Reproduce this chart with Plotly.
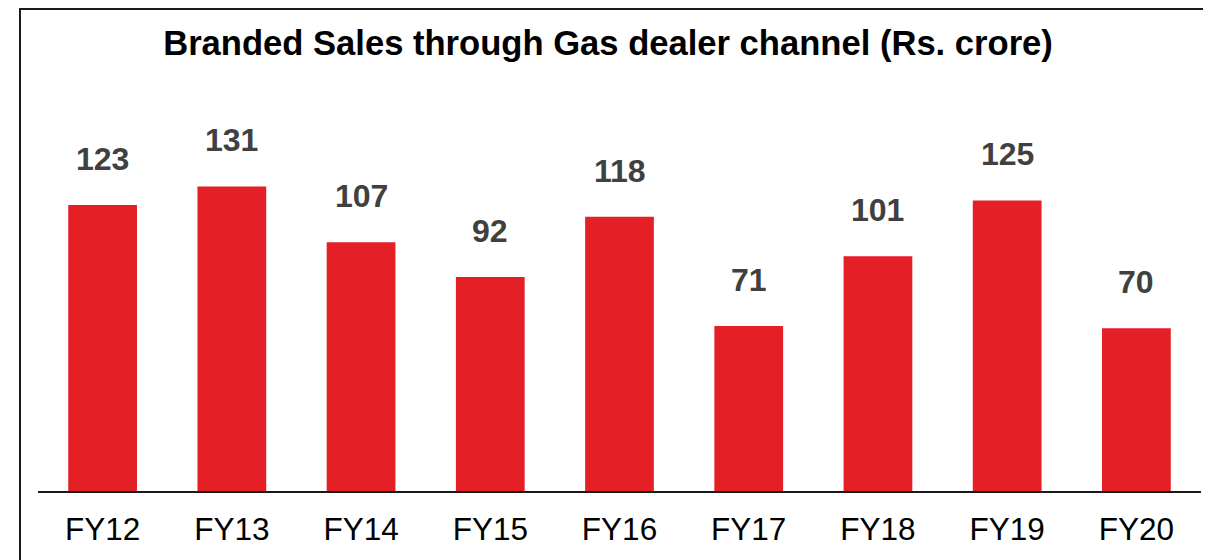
import plotly.graph_objects as go

categories = ["FY12", "FY13", "FY14", "FY15", "FY16", "FY17", "FY18", "FY19", "FY20"]
values = [123, 131, 107, 92, 118, 71, 101, 125, 70]
title_text = "Branded Sales through Gas dealer channel (Rs. crore)"

# the page body has an 8px margin, so the figure is sized to end at the window edge
OFF = 8
W, H = 1211 - OFF, 560 - OFF
ml, mr, mt, mb = 30, 10, 92, 69
pw = W - ml - mr
ph = H - mt - mb
px_per_unit = 2.325
ymax = ph / px_per_unit

FONT = "Liberation Sans, Arial, sans-serif"
BAR = "#E41F26"

fig = go.Figure()
fig.add_trace(go.Bar(
    x=categories, y=values, marker=dict(color=BAR, line=dict(width=0)),
    hoverinfo="x+y",
))

for c, v in zip(categories, values):
    fig.add_annotation(
        x=c, y=v, xref="x", yref="y", text=f"<b>{v}</b>", showarrow=False,
        yanchor="bottom", yshift=26,
        font=dict(family=FONT, size=32, color="#404040"),
    )

def xp(px):
    return (px - ml) / pw

def yp(py):
    return (H - mb - py) / ph

fig.add_shape(
    type="rect", xref="paper", yref="paper",
    x0=xp(12), x1=xp(1225), y0=yp(1), y1=yp(580),
    line=dict(color="#1a1a1a", width=2), fillcolor="rgba(0,0,0,0)", layer="above",
)

fig.update_layout(
    width=W, height=H,
    margin=dict(l=ml, r=mr, t=mt, b=mb, pad=0),
    paper_bgcolor="white", plot_bgcolor="white",
    bargap=0.468,
    showlegend=False,
    title=dict(
        text=f"<b>{title_text}</b>", x=(608 - OFF) / W, xanchor="center",
        y=1 - (43 - OFF) / H, yanchor="middle",
        font=dict(family=FONT, size=34.6, color="#000000"),
    ),
    xaxis=dict(
        type="category", range=[-0.5, len(categories) - 0.5],
        showline=True, linecolor="#1a1a1a", linewidth=2,
        showgrid=False, ticks="", zeroline=False,
        tickfont=dict(family=FONT, size=31.5, color="#000000"),
        ticklabelstandoff=9,
    ),
    yaxis=dict(
        range=[0, ymax], visible=False, showgrid=False, zeroline=False,
    ),
)

fig.write_html("out.html")
